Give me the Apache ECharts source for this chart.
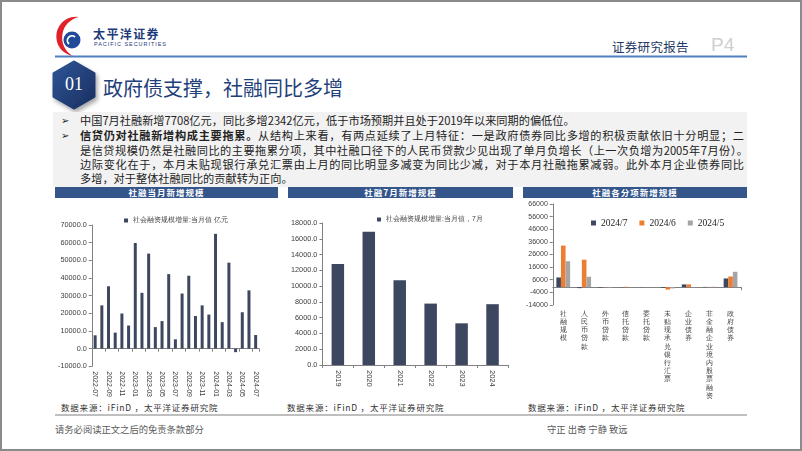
<!DOCTYPE html>
<html><head><meta charset="utf-8">
<script src="https://cdn.jsdelivr.net/npm/echarts@6/dist/echarts.min.js"></script>
<style>
html,body{margin:0;padding:0;}
body{width:802px;height:451px;overflow:hidden;background:#fff;position:relative;font-family:"Noto Sans CJK SC","Noto Sans",sans-serif;}
.abs{position:absolute;white-space:nowrap;}
#frame{position:absolute;left:0;top:0;width:798px;height:447px;border:2px solid #8a8a8a;}
.hdr{position:absolute;top:187px;height:11px;background:#34568b;color:#fff;font-size:8.5px;line-height:11px;text-align:center;font-weight:bold;letter-spacing:1px;}
.src{position:absolute;top:401px;font-size:8.5px;color:#333;letter-spacing:0.8px;white-space:nowrap;}
.ln{position:absolute;left:80px;width:664px;font-size:11.2px;line-height:14px;color:#222;white-space:nowrap;}
.j{text-align:justify;text-align-last:justify;white-space:normal;height:14px;overflow:hidden;}
.bul{position:absolute;left:61px;font-size:10px;line-height:14px;color:#222;}
.chart{position:absolute;top:198px;height:202px;}
</style></head>
<body>
<div id="frame"></div>
<svg class="abs" style="left:0;top:0" width="802" height="451">
  <defs>
    <linearGradient id="hg" x1="0" y1="0" x2="1" y2="1">
      <stop offset="0" stop-color="#2e5597"/><stop offset="1" stop-color="#1a2f5f"/>
    </linearGradient>
    <filter id="sh" x="-30%" y="-30%" width="160%" height="160%"><feDropShadow dx="2" dy="3" stdDeviation="2" flood-color="#000" flood-opacity="0.35"/></filter>
  </defs>
  <path d="M79 17 A21 21 0 0 0 73 56 A17 17 0 0 1 79 17 Z" fill="#e0202b"/>
  <circle cx="72" cy="40" r="8.5" fill="#1f4a98"/>
  <path d="M69 44 A4 4 0 1 1 75 37" stroke="#fff" stroke-width="1.8" fill="none"/>
  <line x1="55" y1="56.5" x2="747" y2="56.5" stroke="#4f7fbf" stroke-width="2"/>
  <path d="M74 62 L94 73.5 L94 96.5 L74 108 L54 96.5 L54 73.5 Z" fill="url(#hg)" stroke="url(#hg)" stroke-width="3" stroke-linejoin="round" filter="url(#sh)"/>
  <rect x="53" y="112" width="694" height="75" fill="#f2f2f2"/>
  <line x1="55" y1="415" x2="747" y2="415" stroke="#bfbfbf" stroke-width="2"/>
</svg>
<div class="abs" style="left:93px;top:28px;font-size:12px;line-height:12px;font-weight:bold;color:#1f3a7a;letter-spacing:1.4px;">太平洋证券</div>
<div class="abs" style="left:94px;top:41px;font-size:5.5px;line-height:6px;color:#1f3a7a;letter-spacing:0.95px;font-family:'Liberation Sans';">PACIFIC SECURITIES</div>
<div class="abs" style="left:612px;top:37px;font-size:12.5px;color:#1f3864;letter-spacing:0.3px;">证券研究报告</div>
<div class="abs" style="left:711px;top:34px;font-size:19px;color:#d0d0d0;font-family:'Liberation Sans';">P4</div>
<div class="abs" style="left:62px;top:74px;width:24px;text-align:center;font-size:18px;color:#fff;font-family:'Liberation Serif';">01</div>
<div class="abs" style="left:103px;top:73px;font-size:20px;color:#1f3f7a;">政府债支撑，社融同比多增</div>

<div class="bul" style="top:113px;">&#10146;</div>
<div class="bul" style="top:128px;">&#10146;</div>
<div class="ln" style="top:113px;">中国7月社融新增7708亿元，同比多增2342亿元，低于市场预期并且处于2019年以来同期的偏低位。</div>
<div class="ln j" style="top:128px;"><b>信贷仍对社融新增构成主要拖累。</b>从结构上来看，有两点延续了上月特征：一是政府债券同比多增的积极贡献依旧十分明显；二</div>
<div class="ln j" style="top:142.5px;width:668px;">是信贷规模仍然是社融同比的主要拖累分项，其中社融口径下的人民币贷款少见出现了单月负增长（上一次负增为2005年7月份）。</div>
<div class="ln j" style="top:157px;">边际变化在于，本月未贴现银行承兑汇票由上月的同比明显多减变为同比少减，对于本月社融拖累减弱。此外本月企业债券同比</div>
<div class="ln" style="top:171px;">多增，对于整体社融同比的贡献转为正向。</div>

<div class="hdr" style="left:55px;width:223px;">社融当月新增规模</div>
<div class="hdr" style="left:288px;width:225px;">社融7月新增规模</div>
<div class="hdr" style="left:523px;width:224px;">社融各分项新增规模</div>

<div id="c1" class="chart" style="left:55px;width:223px;"></div>
<div id="c2" class="chart" style="left:288px;width:225px;"></div>
<div id="c3" class="chart" style="left:523px;width:225px;"></div>

<div class="src" style="left:61px;">数据来源：iFinD ，太平洋证券研究院</div>
<div class="src" style="left:287px;">数据来源：iFinD ，太平洋证券研究院</div>
<div class="src" style="left:528px;">数据来源：iFinD ，太平洋证券研究院</div>

<div class="abs" style="left:55px;top:422px;font-size:9.3px;color:#595959;">请务必阅读正文之后的免责条款部分</div>
<div class="abs" style="left:547px;top:422px;font-size:9.3px;color:#595959;">守正 出奇 宁静 致远</div>

<script>
// ---- Chart 1: monthly TSF increment ----
const months = ['2022-07','2022-08','2022-09','2022-10','2022-11','2022-12','2023-01','2023-02','2023-03','2023-04','2023-05','2023-06','2023-07','2023-08','2023-09','2023-10','2023-11','2023-12','2024-01','2024-02','2024-03','2024-04','2024-05','2024-06','2024-07'];
const monthlyTSF = [7561,24500,35300,9079,19900,13100,59800,31600,53800,12200,15600,42200,5282,31200,41300,18500,24500,19300,65000,15000,48700,-1987,20600,33000,7708];
const legend1 = '社会融资规模增量:当月值 亿元';

// ---- Chart 2: July TSF by year ----
const years = ['2019','2020','2021','2022','2023','2024'];
const julyTSF = [12800,16900,10750,7785,5282,7708];
const legend2 = '社会融资规模增量:当月值，7月';

// ---- Chart 3: TSF components ----
const items = ['社融规模','人民币贷款','外币贷款','信托贷款','委托贷款','未贴现承兑银行汇票','企业债券','非金融企业境内股票融资','政府债券'];
const seriesNames = ['2024/7','2024/6','2024/5'];
const jul2024 = [7708,-767,-370,-150,-60,-624,2179,200,6911];
const jun2024 = [33000,21800,-150,278,-58,-1937,2200,172,8470];
const may2024 = [20600,8218,-476,-40,-19,-1007,150,270,12200];

const DARK='#3d4860', ORANGE='#ed7d31', GRAY='#a5a5a5';
const axisCol='#808080', labCol='#404040';

function yAxisCfg(min,max,interval,fmt,fs){
  return {type:'value',min:min,max:max,interval:interval,
    axisLine:{show:true,lineStyle:{color:axisCol,width:1}},
    axisTick:{show:true,length:3,lineStyle:{color:axisCol}},
    splitLine:{show:false},
    axisLabel:{fontSize:fs,color:labCol,margin:5,fontFamily:'Liberation Sans',formatter:fmt}};
}

const c1 = echarts.init(document.getElementById('c1'));
c1.setOption({
  animation:false,
  legend:{data:[legend1],icon:'rect',left:64,top:14,itemWidth:4,itemHeight:4,itemGap:4,textStyle:{fontSize:6.8,color:'#404040'}},
  grid:{left:34,right:19,top:27,height:142},
  xAxis:[
    {type:'category',data:months,axisLine:{onZero:true,lineStyle:{color:axisCol}},axisTick:{show:true,length:3,interval:1,lineStyle:{color:axisCol}},axisLabel:{show:false}},
    {type:'category',data:months,position:'bottom',axisLine:{show:false,onZero:false},axisTick:{show:false},
     axisLabel:{rotate:-90,interval:1,fontSize:7,color:labCol,margin:5,fontFamily:'Liberation Sans'}}
  ],
  yAxis:yAxisCfg(-10000,70000,10000,v=>v.toFixed(1),7.3),
  series:[{name:legend1,type:'bar',data:monthlyTSF,xAxisIndex:0,barWidth:3,itemStyle:{color:DARK}}]
});

const c2 = echarts.init(document.getElementById('c2'));
c2.setOption({
  animation:false,
  legend:{data:[legend2],icon:'rect',left:84,top:13,itemWidth:4,itemHeight:4,itemGap:4,textStyle:{fontSize:6.8,color:'#404040'}},
  grid:{left:34,right:5,top:25,height:142},
  xAxis:{type:'category',data:years,axisLine:{lineStyle:{color:axisCol}},axisTick:{show:true,length:3,lineStyle:{color:axisCol}},
    axisLabel:{rotate:-90,fontSize:7.5,color:labCol,margin:5,fontFamily:'Liberation Sans'}},
  yAxis:yAxisCfg(0,18000,2000,v=>v.toFixed(1),7.3),
  series:[{name:legend2,type:'bar',data:julyTSF,barWidth:12.5,itemStyle:{color:DARK}}]
});

const c3 = echarts.init(document.getElementById('c3'));
const cols=[DARK,ORANGE,GRAY];
const vals=[jul2024,jun2024,may2024];
c3.setOption({
  animation:false,
  legend:{data:seriesNames,icon:'rect',left:63,top:15,itemWidth:5,itemHeight:5,itemGap:12,textStyle:{fontSize:9.5,color:'#222',fontFamily:'Liberation Serif'}},
  grid:{left:23,right:7,top:6,height:103},
  xAxis:[
    {type:'category',data:items,axisLine:{onZero:true,lineStyle:{color:axisCol}},axisTick:{show:true,length:3,lineStyle:{color:axisCol}},axisLabel:{show:false}},
    {type:'category',data:items,position:'bottom',axisLine:{show:false,onZero:false},axisTick:{show:false},
     axisLabel:{interval:0,fontSize:6.8,lineHeight:8.2,color:labCol,margin:5,formatter:s=>s.split('').join('\n')}}
  ],
  yAxis:yAxisCfg(-14000,66000,10000,v=>String(v),7),
  series:seriesNames.map((n,i)=>({name:n,type:'bar',data:vals[i],xAxisIndex:0,barCategoryGap:'34%',barGap:'0%',itemStyle:{color:cols[i]}}))
});
</script>
</body></html>
